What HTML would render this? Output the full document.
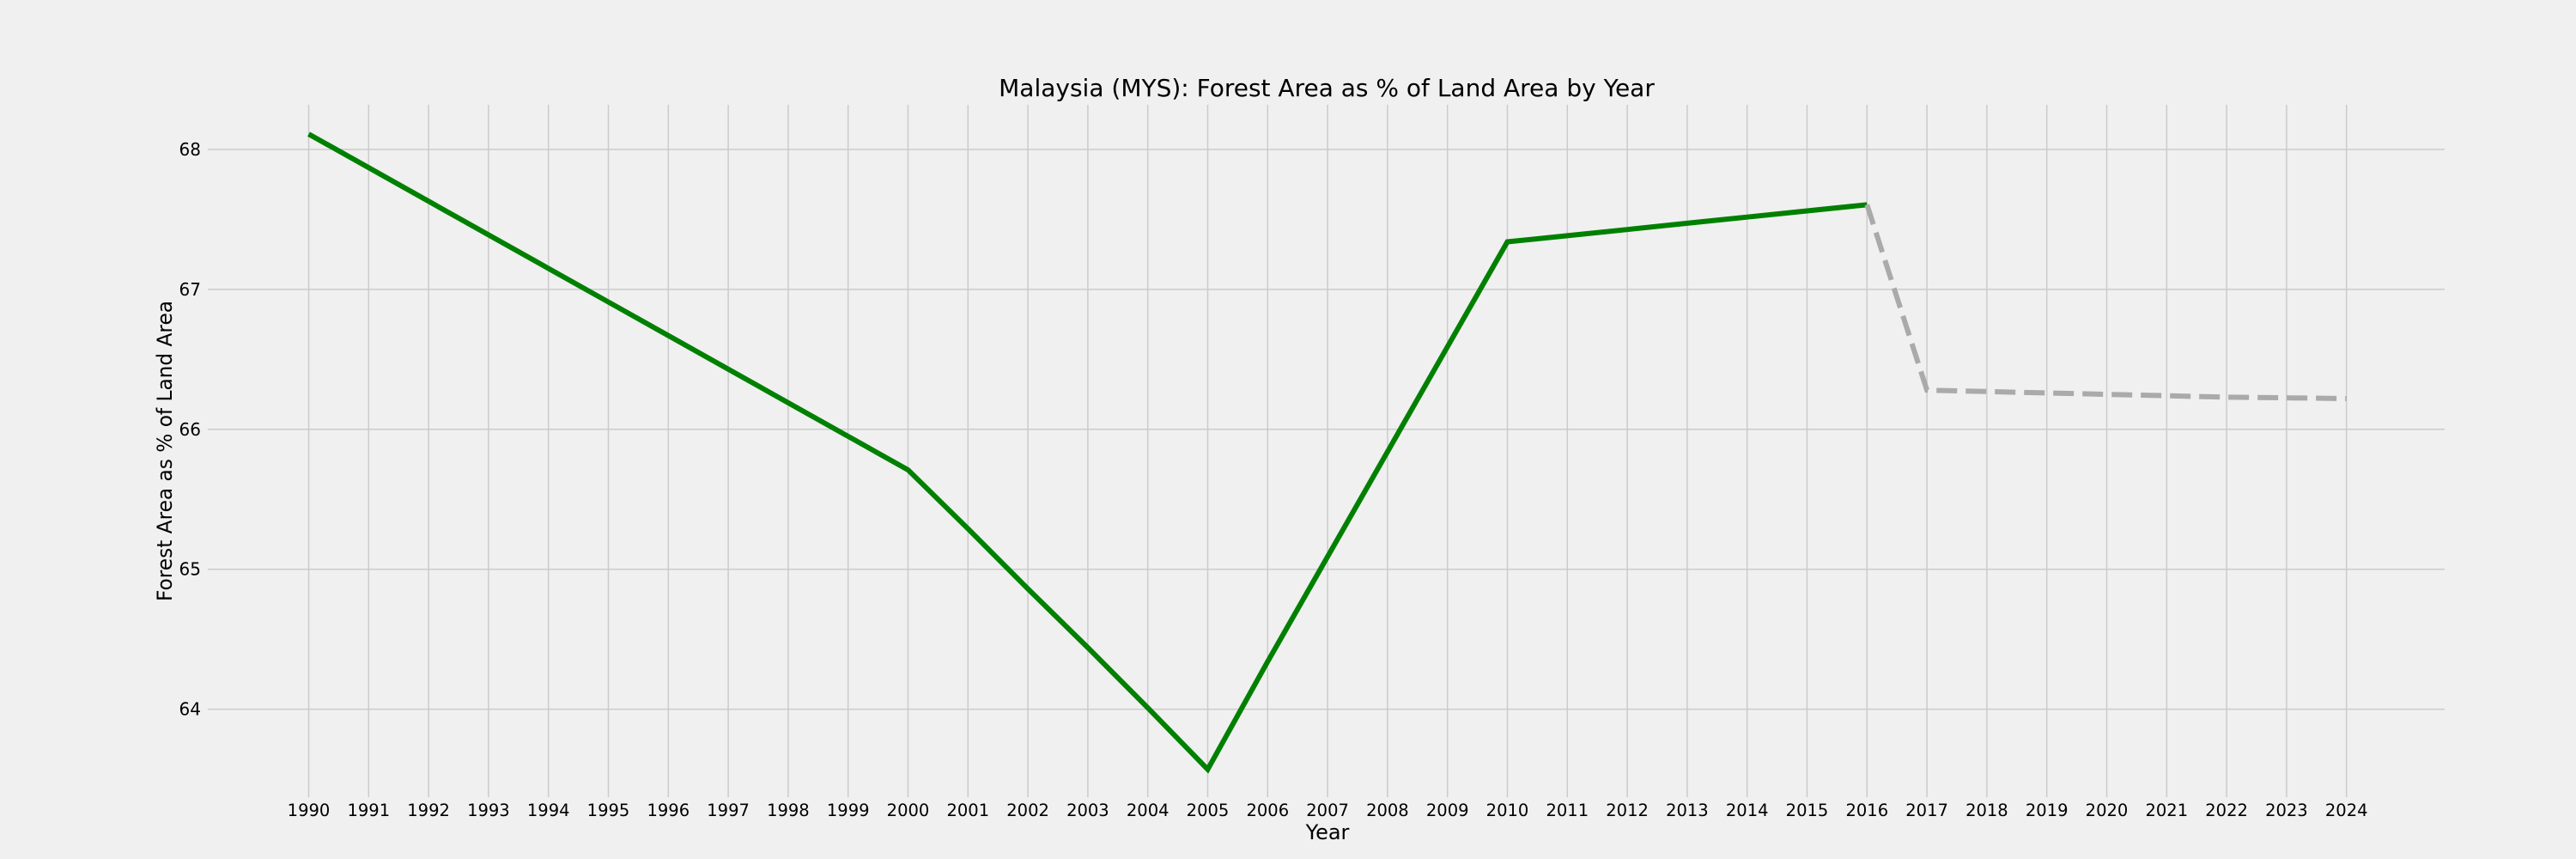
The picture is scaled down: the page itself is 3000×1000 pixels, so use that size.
<!DOCTYPE html>
<html><head><meta charset="utf-8"><style>
html,body{margin:0;padding:0;background:#f0f0f0;}
svg{display:block;font-family:"DejaVu Sans","Liberation Sans",sans-serif;}
</style></head><body>
<svg id="chart" width="3000" height="1000" viewBox="0 0 3000 1000" xmlns="http://www.w3.org/2000/svg">
<rect x="0" y="0" width="3000" height="1000" fill="#f0f0f0"/>
<text x="1545" y="112" font-size="28" text-anchor="middle" fill="#000">Malaysia (MYS): Forest Area as % of Land Area by Year</text>
<text transform="translate(200,525) rotate(-90)" font-size="24" text-anchor="middle" fill="#000" textLength="350" lengthAdjust="spacingAndGlyphs">Forest Area as % of Land Area</text>
<text x="1546" y="977" font-size="24" text-anchor="middle" fill="#000">Year</text>
<g id="grid"></g>
<g id="ticks"></g>
<g id="series"></g>
</svg>
<script>
const years = [1990,1991,1992,1993,1994,1995,1996,1997,1998,1999,2000,2001,2002,2003,2004,2005,2006,2007,2008,2009,2010,2011,2012,2013,2014,2015,2016];
const actualValues = [68.11,67.87,67.63,67.39,67.15,66.91,66.67,66.43,66.19,65.95,65.71,65.29,64.86,64.44,64.01,63.57,64.34,65.09,65.84,66.59,67.34,67.384,67.428,67.473,67.517,67.561,67.605];
const forecastYears = [2016,2017,2018,2019,2020,2021,2022,2023,2024];
const forecastValues = [67.605,66.28,66.27,66.26,66.25,66.24,66.23,66.225,66.22];
const xTicks = [1990,1991,1992,1993,1994,1995,1996,1997,1998,1999,2000,2001,2002,2003,2004,2005,2006,2007,2008,2009,2010,2011,2012,2013,2014,2015,2016,2017,2018,2019,2020,2021,2022,2023,2024];
const yTicks = [64,65,66,67,68];

const NS = "http://www.w3.org/2000/svg";
const plot = {left:242, right:2847, top:122, bottom:928};
function xScale(yr){ return 359.5 + (yr - 1990) * 69.8; }
function yScale(v){ return 174 + (68 - v) * 162.9; }
function mk(tag, attrs, parent){ const e=document.createElementNS(NS,tag); for(const k in attrs) e.setAttribute(k,attrs[k]); parent.appendChild(e); return e; }

const grid=document.getElementById('grid'), ticks=document.getElementById('ticks'), series=document.getElementById('series');
yTicks.forEach(v=>{
  const y=yScale(v);
  const l=mk('line',{x1:plot.left,x2:plot.right,y1:y,y2:y,stroke:'#cbcbcb','stroke-width':1.5},grid);
  
  
  const t=mk('text',{x:234,y:y+7,'font-size':20,'text-anchor':'end',fill:'#000'},ticks);
  t.textContent=v;
  
  
});
xTicks.forEach(yr=>{
  const x=xScale(yr);
  const l=mk('line',{x1:x,x2:x,y1:plot.top,y2:plot.bottom,stroke:'#cbcbcb','stroke-width':1.5},grid);
  
  
  const t=mk('text',{x:x,y:950,'font-size':19.5,'text-anchor':'middle',fill:'#000'},ticks);
  t.textContent=yr;
  
  
});
const p1=mk('polyline',{points:years.map((y,i)=>xScale(y)+','+yScale(actualValues[i])).join(' '),fill:'none',stroke:'#008000','stroke-width':6,'stroke-linejoin':'miter'},series);


const p2=mk('polyline',{points:forecastYears.map((y,i)=>xScale(y)+','+yScale(forecastValues[i])).join(' '),fill:'none',stroke:'#aaaaaa','stroke-width':6,'stroke-dasharray':'24,10'},series);


</script>
</body></html>
